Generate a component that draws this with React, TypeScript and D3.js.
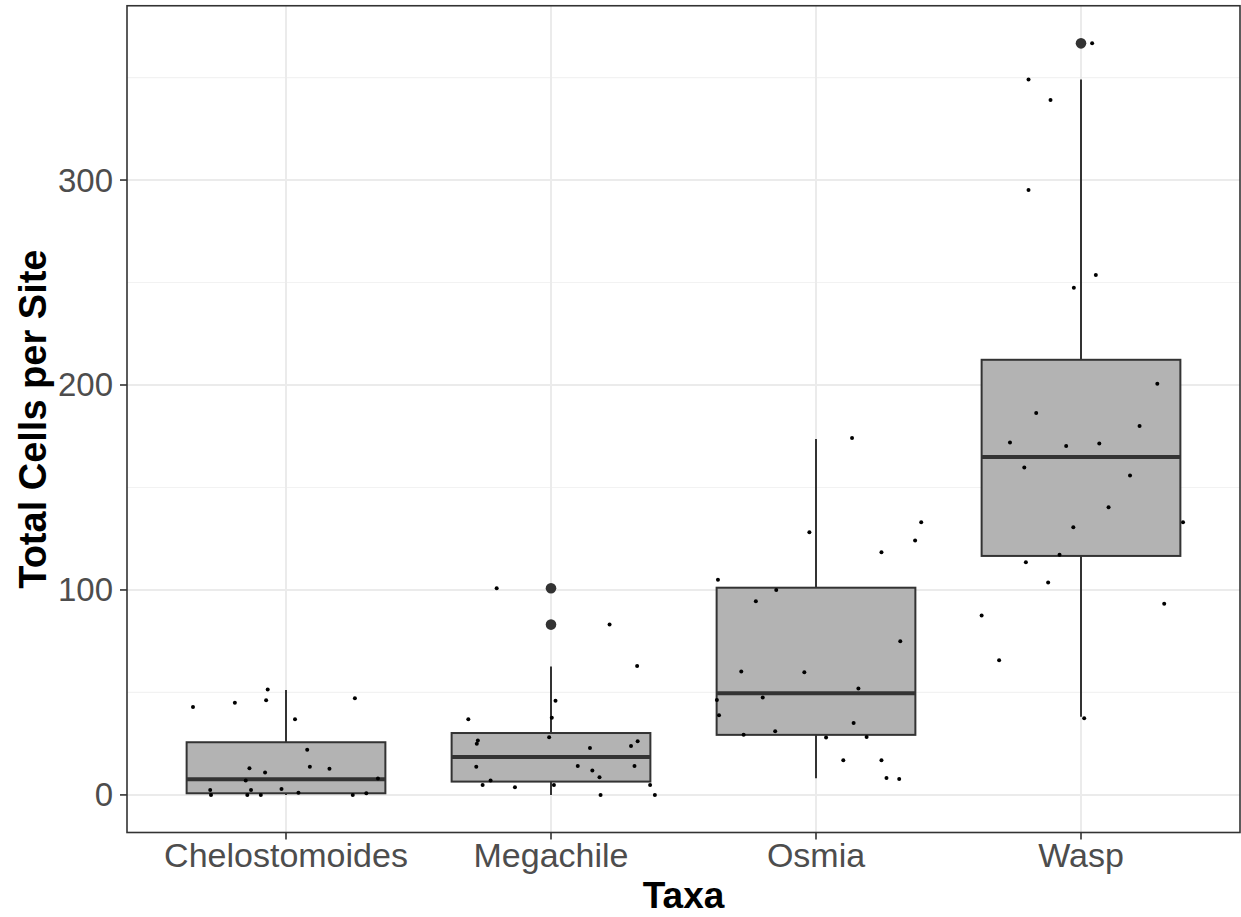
import React from "react";
import * as d3 from "d3";

// ---- data ----
const taxa = ["Chelostomoides", "Megachile", "Osmia", "Wasp"];

const boxLower = [0, 0, 8.1, 38.2];
const boxQ1 = [0.8, 6.5, 29.3, 116.6];
const boxMedian = [7.6, 18.5, 49.6, 164.9];
const boxQ3 = [25.7, 30.2, 101.1, 212.3];
const boxUpper = [51.2, 62.6, 173.7, 349.1];

const outlierTaxon = ["Megachile", "Megachile", "Wasp"];
const outlierValue = [100.8, 83.1, 366.7];

const chelValues = [42.9, 45.0, 46.2, 51.4, 36.9, 47.2, 22.0, 13.0, 13.8, 12.8, 10.9, 7.0, 8.0, 2.4, 0, 2.4, 0, 0, 2.9, 1.0, 0, 0.8];
const chelJitter = [-0.351, -0.193, -0.075, -0.069, 0.034, 0.26, 0.08, -0.138, 0.09, 0.164, -0.079, -0.152, 0.347, -0.286, -0.283, -0.132, -0.146, -0.095, -0.017, 0.047, 0.252, 0.303];

const megaValues = [100.8, 83.1, 62.9, 46.0, 37.7, 36.9, 28.1, 26.5, 25.0, 22.9, 26.2, 23.9, 13.8, 14.1, 14.1, 11.9, 8.6, 7.0, 4.9, 3.7, 4.9, 4.9, 0, 0];
const megaJitter = [-0.205, 0.221, 0.325, 0.017, 0.003, -0.312, -0.007, -0.276, -0.28, 0.147, 0.327, 0.302, -0.282, 0.101, 0.315, 0.156, 0.183, -0.228, -0.258, -0.136, 0.011, 0.374, 0.187, 0.392];

const osmiaValues = [174.1, 133.0, 128.1, 124.1, 118.4, 105.0, 100, 94.5, 75.0, 60.2, 59.8, 51.9, 46.3, 47.5, 38.9, 35.1, 29.3, 31.1, 28.0, 28.3, 16.9, 16.9, 8.3, 7.8];
const osmiaJitter = [0.136, 0.397, -0.025, 0.374, 0.247, -0.37, -0.15, -0.227, 0.318, -0.282, -0.044, 0.16, -0.374, -0.201, -0.366, 0.142, -0.273, -0.154, 0.038, 0.191, 0.103, 0.247, 0.266, 0.314];

const waspValues = [366.7, 349.1, 339.0, 295.1, 253.7, 247.5, 200.6, 186.3, 180.0, 171.9, 170.2, 171.4, 159.7, 155.8, 140.3, 130.6, 133.0, 117.2, 113.5, 103.7, 93.3, 87.5, 65.7, 37.4];
const waspJitter = [0.042, -0.198, -0.115, -0.198, 0.056, -0.027, 0.288, -0.169, 0.221, -0.268, -0.056, 0.069, -0.214, 0.185, 0.104, -0.029, 0.385, -0.081, -0.208, -0.124, 0.314, -0.375, -0.309, 0.012];

const pointValues = [chelValues, megaValues, osmiaValues, waspValues];
const pointJitter = [chelJitter, megaJitter, osmiaJitter, waspJitter];

const yTicks = [0, 100, 200, 300];
const yMinorTicks = [50, 150, 250, 350];

const xTitle = "Taxa";
const yTitle = "Total Cells per Site";

// ---- layout ----
const W = 1241;
const H = 917;
const panel = { left: 127, right: 1240, top: 5.75, bottom: 832.5 };

export default function App() {
  const x = d3
    .scalePoint<string>()
    .domain(taxa)
    .range([panel.left, panel.right])
    .padding(0.6);
  const step = x.step();
  const boxW = step * 0.75;

  const dataMax = d3.max([...boxUpper, ...outlierValue, ...waspValues]) as number;
  const pad = dataMax * 0.05;
  const y = d3
    .scaleLinear()
    .domain([0 - pad, dataMax + pad])
    .range([panel.bottom, panel.top]);

  const font = "'Liberation Sans', Arial, Helvetica, sans-serif";

  return (
    <svg
      width={W}
      height={H}
      style={{ position: "absolute", left: 0, top: 0, background: "#fff" }}
    >
      <rect x={0} y={0} width={W} height={H} fill="#fff" />
      {/* grid */}
      <g>
        {yMinorTicks.map((t) => (
          <line
            key={"ym" + t}
            x1={panel.left}
            x2={panel.right}
            y1={y(t)}
            y2={y(t)}
            stroke="#F2F2F2"
            strokeWidth={1.2}
          />
        ))}
        {yTicks.map((t) => (
          <line
            key={"y" + t}
            x1={panel.left}
            x2={panel.right}
            y1={y(t)}
            y2={y(t)}
            stroke="#EBEBEB"
            strokeWidth={2}
          />
        ))}
        {taxa.map((t) => (
          <line
            key={"x" + t}
            x1={x(t)}
            x2={x(t)}
            y1={panel.top}
            y2={panel.bottom}
            stroke="#EBEBEB"
            strokeWidth={2}
          />
        ))}
      </g>

      {/* boxplots */}
      <g>
        {taxa.map((t, i) => {
          const cx = x(t) as number;
          return (
            <g key={"box" + t}>
              <line x1={cx} x2={cx} y1={y(boxUpper[i])} y2={y(boxQ3[i])} stroke="#333333" strokeWidth={2} />
              <line x1={cx} x2={cx} y1={y(boxQ1[i])} y2={y(boxLower[i])} stroke="#333333" strokeWidth={2} />
              <rect
                x={cx - boxW / 2}
                y={y(boxQ3[i])}
                width={boxW}
                height={y(boxQ1[i]) - y(boxQ3[i])}
                fill="#B3B3B3"
                stroke="#333333"
                strokeWidth={2}
              />
              <line
                x1={cx - boxW / 2}
                x2={cx + boxW / 2}
                y1={y(boxMedian[i])}
                y2={y(boxMedian[i])}
                stroke="#333333"
                strokeWidth={4}
              />
            </g>
          );
        })}
        {outlierValue.map((v, i) => (
          <circle key={"o" + i} cx={x(outlierTaxon[i]) as number} cy={y(v)} r={5.3} fill="#333333" />
        ))}
      </g>

      {/* jittered points */}
      <g>
        {taxa.map((t, i) =>
          pointValues[i].map((v, j) => (
            <circle
              key={t + j}
              cx={(x(t) as number) + pointJitter[i][j] * step}
              cy={y(v)}
              r={2}
              fill="#000"
            />
          ))
        )}
      </g>

      {/* panel border */}
      <rect
        x={panel.left}
        y={panel.top}
        width={panel.right - panel.left}
        height={panel.bottom - panel.top}
        fill="none"
        stroke="#333333"
        strokeWidth={1.6}
      />

      {/* y axis */}
      <g fontFamily={font} fontSize={33} fill="#4D4D4D">
        {yTicks.map((t) => (
          <g key={"yt" + t}>
            <line x1={panel.left - 7} x2={panel.left} y1={y(t)} y2={y(t)} stroke="#333333" strokeWidth={1.6} />
            <text x={113} y={y(t)} textAnchor="end" dominantBaseline="central">
              {t}
            </text>
          </g>
        ))}
      </g>

      {/* x axis */}
      <g fontFamily={font} fontSize={34} fill="#4D4D4D">
        {taxa.map((t) => (
          <g key={"xt" + t}>
            <line x1={x(t)} x2={x(t)} y1={panel.bottom} y2={panel.bottom + 7} stroke="#333333" strokeWidth={1.6} />
            <text x={x(t)} y={867} textAnchor="middle">
              {t}
            </text>
          </g>
        ))}
      </g>

      {/* titles */}
      <text
        x={(panel.left + panel.right) / 2}
        y={908}
        textAnchor="middle"
        fontFamily={font}
        fontWeight="bold"
        fontSize={37}
        fill="#000"
      >
        {xTitle}
      </text>
      <text
        transform={`translate(46, ${(panel.top + panel.bottom) / 2}) rotate(-90)`}
        textAnchor="middle"
        fontFamily={font}
        fontWeight="bold"
        fontSize={38}
        fill="#000"
      >
        {yTitle}
      </text>
    </svg>
  );
}
